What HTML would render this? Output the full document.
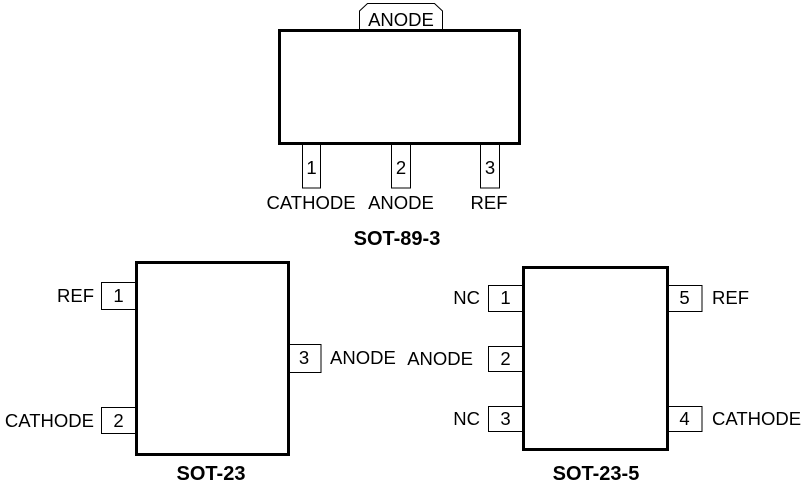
<!DOCTYPE html>
<html><head><meta charset="utf-8"><style>html,body{margin:0;padding:0;background:#fff}svg{display:block}</style></head><body>
<svg width="801" height="488" viewBox="0 0 801 488" xmlns="http://www.w3.org/2000/svg" font-family="Liberation Sans, Arial, sans-serif" font-size="18.5" fill="#000">
<g fill="#fff" stroke="#000" stroke-width="1">
<path d="M359.5,29 L359.5,11 L367.5,3.5 L434.5,3.5 L442.5,11 L442.5,29"/>
<rect x="302.5" y="144" width="18" height="44"/>
<rect x="391.5" y="144" width="19" height="44"/>
<rect x="480.5" y="144" width="19" height="44"/>
<rect x="101.5" y="282.5" width="34" height="27"/>
<rect x="101.5" y="407.5" width="34" height="26"/>
<rect x="288" y="344.5" width="33" height="28"/>
<rect x="488.5" y="285.5" width="34" height="26"/>
<rect x="488.5" y="346.5" width="34" height="25"/>
<rect x="488.5" y="406.5" width="34" height="25"/>
<rect x="667" y="285.5" width="35" height="26"/>
<rect x="667" y="406.5" width="35" height="25"/>
</g>
<g fill="none" stroke="#000" stroke-width="3">
<rect x="279.5" y="30.5" width="240" height="113"/>
<rect x="136.5" y="262.5" width="152" height="192"/>
<rect x="523.5" y="267.5" width="144" height="182"/>
</g>
<g text-anchor="middle">
<text x="401" y="26">ANODE</text>
<text x="311.5" y="174">1</text>
<text x="401" y="174">2</text>
<text x="490" y="174">3</text>
<text x="311" y="209">CATHODE</text>
<text x="401" y="209">ANODE</text>
<text x="489" y="209">REF</text>
<text x="397" y="245" font-weight="bold" font-size="20">SOT-89-3</text>
<text x="118.5" y="302">1</text>
<text x="118.5" y="427">2</text>
<text x="304" y="364">3</text>
<text x="211" y="480" font-weight="bold" font-size="20">SOT-23</text>
<text x="505.5" y="304">1</text>
<text x="505.5" y="365">2</text>
<text x="505.5" y="425">3</text>
<text x="684.5" y="304">5</text>
<text x="684.5" y="425">4</text>
<text x="596" y="480" font-weight="bold" font-size="20">SOT-23-5</text>
</g>
<g text-anchor="end">
<text x="94" y="302">REF</text>
<text x="94" y="427">CATHODE</text>
<text x="480" y="304">NC</text>
<text x="473" y="365">ANODE</text>
<text x="480" y="425">NC</text>
</g>
<text x="330" y="364">ANODE</text>
<text x="712" y="304">REF</text>
<text x="712" y="425">CATHODE</text>
</svg>
</body></html>
